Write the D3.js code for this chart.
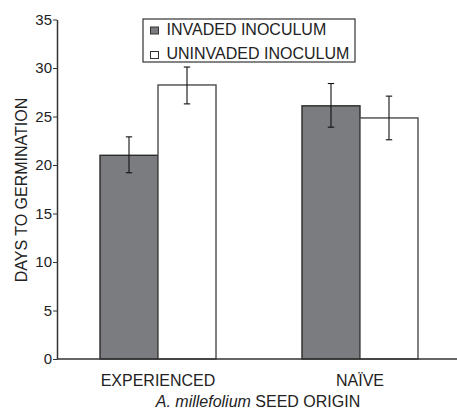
<!DOCTYPE html>
<html>
<head>
  <meta charset="utf-8">
  <style>
    body { margin: 0; background: #fff; }
    text { font-family: "Liberation Sans", Arial, sans-serif; fill: #222; }
  </style>
  <title>Days to germination</title>
</head>
<body>
  <script src="https://cdn.jsdelivr.net/npm/d3@7"></script>
  <script>
    // data
    var origins = ["EXPERIENCED", "NAÏVE"];
    var series = ["INVADED INOCULUM", "UNINVADED INOCULUM"];
    var means = [[21.0, 28.25], [26.1, 24.85]];
    var errLow = [[19.2, 26.3], [23.9, 22.6]];
    var errHigh = [[22.9, 30.1], [28.4, 27.1]];
    var yTicks = [0, 5, 10, 15, 20, 25, 30, 35];
    var fills = ["#7b7c80", "#ffffff"];

    var width = 457, height = 409;
    var axisX = 57, axisBottom = 359, axisTop = 19.5;

    var svg = d3.select("body").append("svg")
      .attr("width", width)
      .attr("height", height);

    var y = d3.scaleLinear().domain([0, 35]).range([axisBottom, axisTop]);
    var x0 = d3.scaleBand().domain(origins).range([57, 461]).paddingInner(0.4257).paddingOuter(0.2129);
    var x1 = d3.scaleBand().domain(series).range([0, x0.bandwidth()]);

    // bars
    var groups = svg.selectAll("g.grp")
      .data(origins)
      .enter().append("g")
      .attr("class", "grp")
      .attr("transform", function(d) { return "translate(" + x0(d) + ",0)"; });

    groups.selectAll("rect")
      .data(function(d, i) { return series.map(function(s, j) { return { s: s, v: means[i][j], j: j }; }); })
      .enter().append("rect")
      .attr("x", function(d) { return x1(d.s); })
      .attr("y", function(d) { return y(d.v); })
      .attr("width", x1.bandwidth())
      .attr("height", function(d) { return axisBottom - y(d.v); })
      .attr("fill", function(d) { return fills[d.j]; })
      .attr("stroke", function(d) { return d.j == 0 ? "#2a2a2a" : "#4a4a4a"; })
      .attr("stroke-width", 1.4);

    // error bars
    var errs = groups.selectAll("g.err")
      .data(function(d, i) { return series.map(function(s, j) { return { s: s, lo: errLow[i][j], hi: errHigh[i][j] }; }); })
      .enter().append("g")
      .attr("class", "err")
      .attr("stroke", "#111")
      .attr("stroke-width", 1.1);
    errs.append("line")
      .attr("x1", function(d) { return x1(d.s) + x1.bandwidth() / 2; })
      .attr("x2", function(d) { return x1(d.s) + x1.bandwidth() / 2; })
      .attr("y1", function(d) { return y(d.lo); })
      .attr("y2", function(d) { return y(d.hi); });
    ["lo", "hi"].forEach(function(k) {
      errs.append("line")
        .attr("x1", function(d) { return x1(d.s) + x1.bandwidth() / 2 - 3.2; })
        .attr("x2", function(d) { return x1(d.s) + x1.bandwidth() / 2 + 3.2; })
        .attr("y1", function(d) { return y(d[k]); })
        .attr("y2", function(d) { return y(d[k]); });
    });

    // y axis
    var yAxis = d3.axisLeft(y).tickValues(yTicks).tickSize(4).tickPadding(1).tickSizeOuter(0);
    var ya = svg.append("g")
      .attr("transform", "translate(" + axisX + ",0)")
      .call(yAxis);
    ya.select(".domain").attr("stroke", "#333").attr("stroke-width", 1.5);
    ya.selectAll(".tick line").attr("stroke", "#333");
    ya.selectAll(".tick text")
      .attr("font-size", 15)
      .attr("font-family", "Liberation Sans, Arial, sans-serif")
      .attr("fill", "#222");

    // x axis line
    svg.append("line")
      .attr("x1", axisX).attr("x2", width)
      .attr("y1", axisBottom).attr("y2", axisBottom)
      .attr("stroke", "#333").attr("stroke-width", 1.5);

    // category labels
    svg.selectAll("text.cat")
      .data(origins)
      .enter().append("text")
      .attr("class", "cat")
      .attr("x", function(d) { return x0(d) + x0.bandwidth() / 2; })
      .attr("y", 386)
      .attr("text-anchor", "middle")
      .attr("font-size", 16)
      .text(function(d) { return d; });

    // x title
    var xt = svg.append("text")
      .attr("x", 258)
      .attr("y", 407)
      .attr("text-anchor", "middle")
      .attr("font-size", 16);
    xt.append("tspan").attr("font-style", "italic").text("A. millefolium");
    xt.append("tspan").text(" SEED ORIGIN");

    // y title
    svg.append("text")
      .attr("transform", "translate(26.5," + 190 + ") rotate(-90)")
      .attr("text-anchor", "middle")
      .attr("font-size", 16)
      .text("DAYS TO GERMINATION");

    // legend
    var leg = svg.append("g").attr("transform", "translate(143,19)");
    leg.append("rect")
      .attr("width", 212).attr("height", 43)
      .attr("fill", "#fff").attr("stroke", "#333").attr("stroke-width", 1.2);
    var items = leg.selectAll("g.item")
      .data(series)
      .enter().append("g")
      .attr("class", "item")
      .attr("transform", function(d, i) { return "translate(0," + (i * 24.5) + ")"; });
    items.append("rect")
      .attr("x", 7.5).attr("y", 8)
      .attr("width", 8).attr("height", 7)
      .attr("fill", function(d, i) { return fills[i]; })
      .attr("stroke", "#333").attr("stroke-width", 1);
    items.append("text")
      .attr("x", 23.5)
      .attr("y", 15.5)
      .attr("font-size", 16)
      .text(function(d) { return d; });
  </script>
</body>
</html>
